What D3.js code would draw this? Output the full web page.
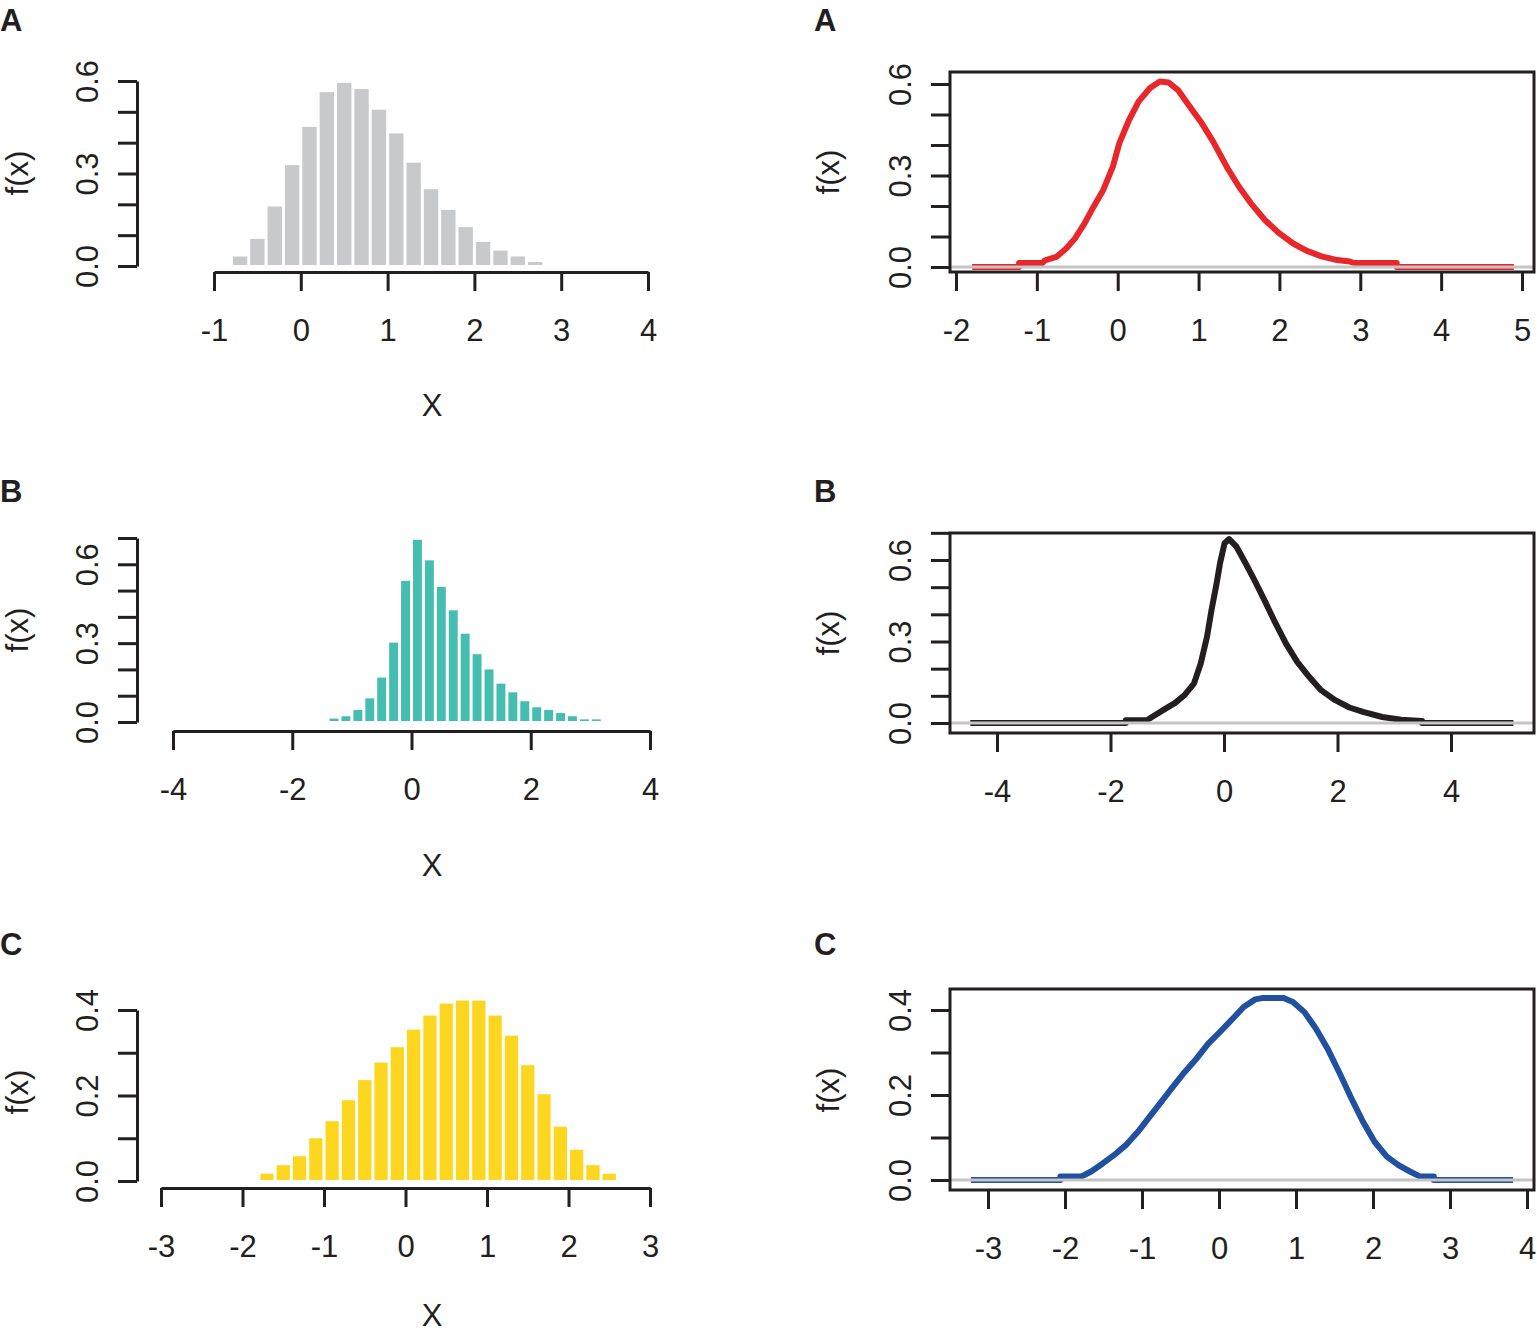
<!DOCTYPE html>
<html>
<head>
<meta charset="utf-8">
<script src="https://d3js.org/d3.v7.min.js"></script>
<style>
  body { margin: 0; background: #fff; }
  text { font-family: "Liberation Sans", Arial, Helvetica, sans-serif; fill: #231f20; }
</style>
</head>
<body>
<svg id="chart"></svg>
<script>
// ---- data ----
const binWidth = 0.2;

const histA_bins = [-0.8, -0.6, -0.4, -0.2, 0, 0.2, 0.4, 0.6, 0.8, 1.0, 1.2, 1.4, 1.6, 1.8, 2.0, 2.2, 2.4, 2.6];
const histA_density = [0.031, 0.088, 0.193, 0.327, 0.451, 0.564, 0.594, 0.574, 0.507, 0.430, 0.335, 0.249, 0.182, 0.126, 0.078, 0.050, 0.031, 0.013];

const histB_bins = [-1.4, -1.2, -1.0, -0.8, -0.6, -0.4, -0.2, 0, 0.2, 0.4, 0.6, 0.8, 1.0, 1.2, 1.4, 1.6, 1.8, 2.0, 2.2, 2.4, 2.6, 2.8, 3.0];
const histB_density = [0.013, 0.022, 0.046, 0.090, 0.169, 0.302, 0.537, 0.693, 0.615, 0.514, 0.425, 0.336, 0.258, 0.200, 0.146, 0.113, 0.079, 0.056, 0.046, 0.034, 0.022, 0.010, 0.010];

const histC_bins = [-1.8, -1.6, -1.4, -1.2, -1.0, -0.8, -0.6, -0.4, -0.2, 0, 0.2, 0.4, 0.6, 0.8, 1.0, 1.2, 1.4, 1.6, 1.8, 2.0, 2.2, 2.4];
const histC_density = [0.017, 0.037, 0.058, 0.100, 0.140, 0.189, 0.236, 0.277, 0.313, 0.354, 0.387, 0.415, 0.422, 0.422, 0.387, 0.340, 0.271, 0.203, 0.127, 0.073, 0.037, 0.017];

const curveA_x = [-1.8, -1.22, -1.22, -0.93, -0.9, -0.76, -0.64, -0.53, -0.41, -0.30, -0.18, -0.06, 0.02, 0.14, 0.26, 0.40, 0.52, 0.63, 0.75, 0.89, 1.04, 1.18, 1.36, 1.50, 1.65, 1.82, 2.0, 2.17, 2.34, 2.52, 2.69, 2.87, 2.92, 3.45, 3.45, 4.9];
const curveA_y = [0, 0, 0.013, 0.013, 0.022, 0.033, 0.060, 0.093, 0.143, 0.197, 0.252, 0.329, 0.406, 0.482, 0.543, 0.587, 0.608, 0.605, 0.579, 0.526, 0.471, 0.411, 0.323, 0.263, 0.208, 0.154, 0.110, 0.077, 0.053, 0.035, 0.024, 0.018, 0.013, 0.013, 0, 0];

const curveB_x = [-4.47, -1.73, -1.73, -1.36, -1.19, -1.03, -0.86, -0.70, -0.53, -0.41, -0.30, -0.22, -0.13, -0.07, 0.01, 0.09, 0.22, 0.38, 0.55, 0.71, 0.88, 1.09, 1.29, 1.50, 1.71, 1.96, 2.21, 2.45, 2.79, 3.12, 3.49, 3.49, 5.1];
const curveB_y = [0, 0, 0.010, 0.010, 0.032, 0.053, 0.074, 0.102, 0.145, 0.219, 0.317, 0.416, 0.514, 0.588, 0.662, 0.677, 0.649, 0.588, 0.520, 0.453, 0.379, 0.293, 0.225, 0.170, 0.121, 0.084, 0.057, 0.041, 0.022, 0.012, 0.007, 0, 0];

const curveC_x = [-3.22, -2.06, -2.06, -1.79, -1.66, -1.51, -1.36, -1.21, -1.05, -0.90, -0.75, -0.60, -0.45, -0.29, -0.14, 0.01, 0.16, 0.32, 0.47, 0.56, 0.84, 0.96, 1.11, 1.26, 1.41, 1.57, 1.72, 1.87, 2.02, 2.18, 2.33, 2.48, 2.60, 2.79, 2.79, 3.82];
const curveC_y = [0, 0, 0.008, 0.008, 0.020, 0.039, 0.059, 0.082, 0.114, 0.149, 0.184, 0.219, 0.253, 0.286, 0.321, 0.348, 0.376, 0.407, 0.425, 0.428, 0.428, 0.419, 0.395, 0.356, 0.309, 0.250, 0.192, 0.137, 0.090, 0.055, 0.035, 0.020, 0.009, 0.008, 0, 0];

// tick values and labelled ticks
const histA_xticks = [-1, 0, 1, 2, 3, 4];
const histB_xticks = [-4, -2, 0, 2, 4];
const histC_xticks = [-3, -2, -1, 0, 1, 2, 3];
const curveA_xticks = [-2, -1, 0, 1, 2, 3, 4, 5];
const curveB_xticks = [-4, -2, 0, 2, 4];
const curveC_xticks = [-3, -2, -1, 0, 1, 2, 3, 4];
const yticksAB = [0, 0.1, 0.2, 0.3, 0.4, 0.5, 0.6];
const yticksB7 = [0, 0.1, 0.2, 0.3, 0.4, 0.5, 0.6, 0.7];
const yticksC = [0, 0.1, 0.2, 0.3, 0.4];
const ylabelsAB = [0, 0.3, 0.6];
const ylabelsC = [0, 0.2, 0.4];

const width = 1537, height = 1333;
const ink = "#231f20";
const fs = 31;

const svg = d3.select("#chart")
    .attr("width", width)
    .attr("height", height)
    .attr("viewBox", [0, 0, width, height]);

const fmtY = d => d.toFixed(1);
const fmtX = d => String(d);

const panels = [
    { kind: "hist", bins: histA_bins, dens: histA_density, color: "#c8c9cb", xticks: histA_xticks, xRange: [214, 648],
      yticks: yticksAB, ylabels: ylabelsAB, yRange: [266, 81], axisX: 137, axisY: 272, letter: "A", lx: 0, ly: 31, fx: 17, fy: 173, xlabX: 432, xlabY: 416 },
    { kind: "hist", bins: histB_bins, dens: histB_density, color: "#46bdb1", xticks: histB_xticks, xRange: [173, 650],
      yticks: yticksB7, ylabels: ylabelsAB, yRange: [722, 538], axisX: 137, axisY: 731, letter: "B", lx: 0, ly: 502, fx: 17, fy: 630, xlabX: 432, xlabY: 876 },
    { kind: "hist", bins: histC_bins, dens: histC_density, color: "#fdd71f", xticks: histC_xticks, xRange: [161, 650],
      yticks: yticksC, ylabels: ylabelsC, yRange: [1181, 1010], axisX: 137, axisY: 1188, letter: "C", lx: 0, ly: 955, fx: 17, fy: 1092, xlabX: 432, xlabY: 1326 },
    { kind: "curve", xs: curveA_x, ys: curveA_y, color: "#e8272b", xticks: curveA_xticks, xDom: [-2, 5], xRange: [956, 1522],
      yticks: yticksAB, ylabels: ylabelsAB, yDom: [0, 0.6], yRange: [267, 84], box: [950, 1534, 72, 272], letter: "A", lx: 814, ly: 31, fx: 828, fy: 172 },
    { kind: "curve", xs: curveB_x, ys: curveB_y, color: "#231f20", xticks: curveB_xticks, xDom: [-4, 4], xRange: [997, 1451],
      yticks: yticksB7, ylabels: ylabelsAB, yDom: [0, 0.6], yRange: [723, 560], box: [950, 1534, 533, 733], letter: "B", lx: 814, ly: 502, fx: 828, fy: 633 },
    { kind: "curve", xs: curveC_x, ys: curveC_y, color: "#2150a0", xticks: curveC_xticks, xDom: [-3, 4], xRange: [988, 1527],
      yticks: yticksC, ylabels: ylabelsC, yDom: [0, 0.4], yRange: [1180, 1010], box: [950, 1534, 989, 1190], letter: "C", lx: 814, ly: 955, fx: 828, fy: 1090 }
];

function styleAxis(g, removeDomain) {
    g.selectAll("path.domain").attr("stroke", ink).attr("stroke-width", 3);
    if (removeDomain) g.select("path.domain").remove();
    g.selectAll(".tick line").attr("stroke", ink).attr("stroke-width", 3);
    g.selectAll("text").attr("font-size", fs).attr("fill", ink)
        .style("font-family", '"Liberation Sans", Arial, sans-serif');
}

function yAxisLabels(g, labelled) {
    g.selectAll(".tick text")
        .text(d => labelled.some(v => Math.abs(v - d) < 1e-9) ? fmtY(d) : "")
        .attr("x", 0)
        .attr("y", -50)
        .attr("dy", "0.35em")
        .attr("text-anchor", "middle")
        .attr("transform", "rotate(-90)");
}

panels.forEach(p => {
    const g = svg.append("g");
    let x, y;

    if (p.kind === "hist") {
        x = d3.scaleLinear().domain(d3.extent(p.xticks)).range(p.xRange);
        y = d3.scaleLinear().domain(d3.extent(p.yticks)).range(p.yRange);

        g.selectAll("rect.bar")
            .data(p.bins.map((b, i) => ({ b, v: p.dens[i] })))
            .join("rect")
            .attr("class", "bar")
            .attr("x", d => x(d.b) + 1.5)
            .attr("width", d => x(d.b + binWidth) - x(d.b) - 3)
            .attr("y", d => y(d.v))
            .attr("height", d => y(0) - y(d.v) - 1)
            .attr("fill", p.color);

        g.append("g")
            .attr("transform", `translate(0,${p.axisY})`)
            .call(d3.axisBottom(x).tickValues(p.xticks).tickSize(19).tickSizeOuter(0).tickPadding(28).tickFormat(fmtX))
            .call(a => styleAxis(a, false));

        g.append("g")
            .attr("transform", `translate(${p.axisX},0)`)
            .call(d3.axisLeft(y).tickValues(p.yticks).tickSize(19).tickSizeOuter(0))
            .call(a => styleAxis(a, false))
            .call(a => yAxisLabels(a, p.ylabels));

        g.append("text")
            .attr("x", p.xlabX)
            .attr("y", p.xlabY)
            .attr("text-anchor", "middle")
            .attr("font-size", fs)
            .text("X");
    } else {
        x = d3.scaleLinear().domain(p.xDom).range(p.xRange);
        y = d3.scaleLinear().domain(p.yDom).range(p.yRange);
        const [bx0, bx1, by0, by1] = p.box;

        const line = d3.line()
            .x(d => x(d[0]))
            .y(d => y(d[1]));

        g.append("path")
            .datum(p.xs.map((v, i) => [v, p.ys[i]]))
            .attr("d", line)
            .attr("fill", "none")
            .attr("stroke", p.color)
            .attr("stroke-width", 6)
            .attr("stroke-linejoin", "round")
            .attr("stroke-linecap", "butt");

        // zero reference line
        g.append("line")
            .attr("x1", bx0).attr("x2", bx1)
            .attr("y1", y(0)).attr("y2", y(0))
            .attr("stroke", "#c4c4c4")
            .attr("stroke-width", 3);

        g.append("rect")
            .attr("x", bx0).attr("y", by0)
            .attr("width", bx1 - bx0).attr("height", by1 - by0)
            .attr("fill", "none")
            .attr("stroke", ink)
            .attr("stroke-width", 3);

        g.append("g")
            .attr("transform", `translate(0,${by1})`)
            .call(d3.axisBottom(x).tickValues(p.xticks).tickSize(19).tickSizeOuter(0).tickPadding(28).tickFormat(fmtX))
            .call(a => styleAxis(a, true));

        g.append("g")
            .attr("transform", `translate(${bx0},0)`)
            .call(d3.axisLeft(y).tickValues(p.yticks).tickSize(19).tickSizeOuter(0))
            .call(a => styleAxis(a, true))
            .call(a => yAxisLabels(a, p.ylabels));
    }

    g.append("text")
        .attr("transform", `translate(${p.fx},${p.fy}) rotate(-90)`)
        .attr("dy", "0.35em")
        .attr("text-anchor", "middle")
        .attr("font-size", fs)
        .text("f(x)");

    g.append("text")
        .attr("x", p.lx)
        .attr("y", p.ly)
        .attr("font-size", fs)
        .attr("font-weight", "bold")
        .text(p.letter);
});
</script>
</body>
</html>
